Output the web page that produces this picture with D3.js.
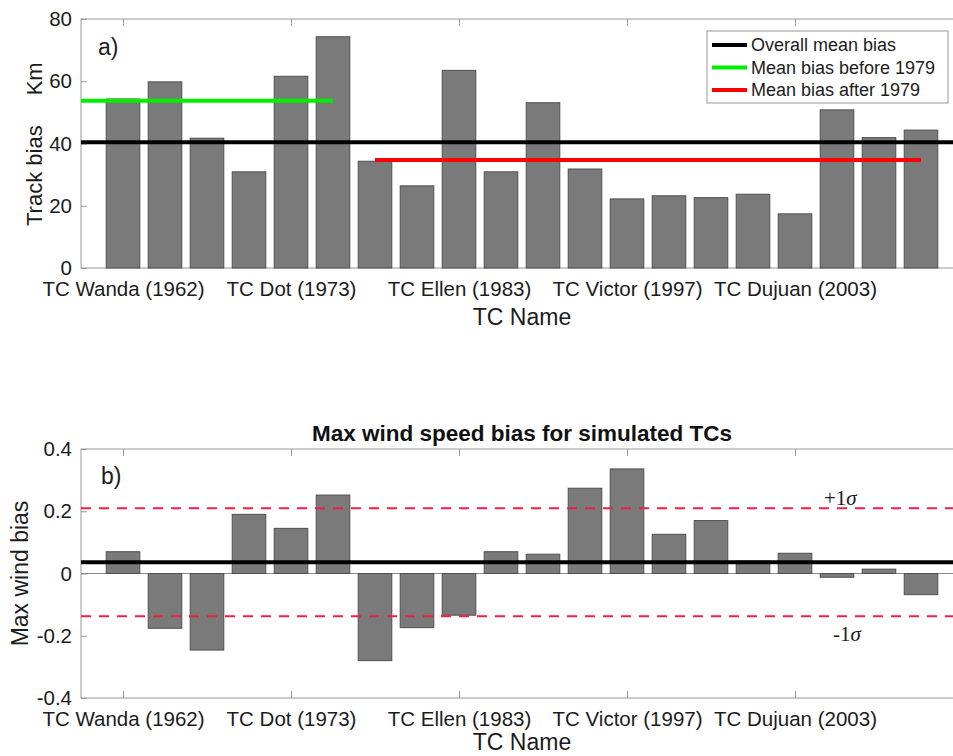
<!DOCTYPE html>
<html>
<head>
<meta charset="utf-8">
<script src="https://cdn.jsdelivr.net/npm/d3@7"></script>
<style>
  body { margin: 0; background: #fff; }
  svg { display: block; font-family: "Liberation Sans", Arial, Helvetica, sans-serif; }
</style>
</head>
<body>
<svg id="fig" width="953" height="756"></svg>
<script>
// Simulated tropical cyclone cases, in chronological order
const caseIds = [1, 2, 3, 4, 5, 6, 7, 8, 9, 10, 11, 12, 13, 14, 15, 16, 17, 18, 19, 20];
// Cases that carry a name label on the x axis
const labelledCases = [1, 5, 9, 13, 17];
const stormLabels = ["TC Wanda (1962)", "TC Dot (1973)", "TC Ellen (1983)", "TC Victor (1997)", "TC Dujuan (2003)"];

// Track bias (km) per case
const trackBias = [54.3, 59.8, 41.7, 30.9, 61.6, 74.3, 34.3, 26.4, 63.5, 30.9,
                   53.1, 31.8, 22.2, 23.2, 22.6, 23.7, 17.4, 50.8, 41.9, 44.3];
// Cases 1-6 were before 1979, cases 7-20 after
const preSatelliteCount = 6;

// Max wind speed bias per case
const windBias = [0.070, -0.176, -0.246, 0.190, 0.145, 0.252, -0.280, -0.174, -0.134, 0.070,
                  0.062, 0.274, 0.336, 0.126, 0.170, 0.040, 0.065, -0.012, 0.014, -0.068];

const trackTicks = [0, 20, 40, 60, 80];
const trackTickLabels = ["0", "20", "40", "60", "80"];
const windTicks = [-0.4, -0.2, 0, 0.2, 0.4];
const windTickLabels = ["-0.4", "-0.2", "0", "0.2", "0.4"];

const svg = d3.select("#fig");
const axisColor = "#999";
const textColor = "#1c1c1c";
const barFill = "#7a7a7a";
const barEdge = "#505050";

const left = 81, xRight = 963;
const x = d3.scaleLinear().domain([0, 21]).range([left, xRight]);
const barW = (x(1) - x(0)) * 0.8;

function panel(top, bottom, yDomain, yTicks, yLabels) {
  const y = d3.scaleLinear().domain(yDomain).range([bottom, top]);
  const g = svg.append("g");

  // axis box
  g.append("rect").attr("x", left).attr("y", top)
    .attr("width", xRight - left).attr("height", bottom - top)
    .attr("fill", "none").attr("stroke", axisColor).attr("stroke-width", 1);

  const styleAxis = sel => {
    sel.select(".domain").remove();
    sel.selectAll(".tick line").attr("stroke", axisColor);
    sel.selectAll(".tick text").attr("fill", textColor).style("font-size", "20.5px");
  };

  g.append("g").attr("transform", `translate(${left},0)`)
    .call(d3.axisLeft(y).tickValues(yTicks).tickFormat((d, i) => yLabels[i])
      .tickSize(-6).tickPadding(9))
    .call(styleAxis);
  g.append("g").attr("transform", `translate(${xRight},0)`)
    .call(d3.axisRight(y).tickValues(yTicks).tickFormat("").tickSize(-6))
    .call(styleAxis);
  g.append("g").attr("transform", `translate(0,${bottom})`)
    .call(d3.axisBottom(x).tickValues(labelledCases)
      .tickFormat((d, i) => stormLabels[i]).tickSize(-7).tickPadding(13))
    .call(styleAxis);
  g.append("g").attr("transform", `translate(0,${top})`)
    .call(d3.axisTop(x).tickValues(labelledCases).tickFormat("").tickSize(-7))
    .call(styleAxis);

  return { g, y };
}

function bars(p, values) {
  const y = p.y;
  p.g.append("g").selectAll("rect").data(values).join("rect")
    .attr("x", (d, i) => x(caseIds[i]) - barW / 2)
    .attr("y", d => y(Math.max(0, d)))
    .attr("width", barW)
    .attr("height", d => Math.abs(y(d) - y(0)))
    .attr("fill", barFill)
    .attr("stroke", barEdge)
    .attr("stroke-width", 1);
}

function hline(p, x0, x1, v, color, width, dash) {
  p.g.append("line")
    .attr("x1", x(x0)).attr("x2", x(x1))
    .attr("y1", p.y(v)).attr("y2", p.y(v))
    .attr("stroke", color).attr("stroke-width", width)
    .attr("stroke-dasharray", dash || null);
}

// ---------- a) track bias ----------
const pa = panel(19, 268, [0, 80], trackTicks, trackTickLabels);
bars(pa, trackBias);
const overallMean = d3.mean(trackBias);
const meanBefore = d3.mean(trackBias.slice(0, preSatelliteCount));
const meanAfter = d3.mean(trackBias.slice(preSatelliteCount));
hline(pa, 0, 21, overallMean, "#000", 4);
hline(pa, 0, preSatelliteCount, meanBefore, "#00ee00", 4);
hline(pa, preSatelliteCount + 1, caseIds.length, meanAfter, "#ff0000", 4);

pa.g.append("text").attr("x", 98).attr("y", 55)
  .attr("fill", textColor).style("font-size", "23px").text("a)");

pa.g.append("text")
  .attr("transform", "translate(42,226) rotate(-90)")
  .attr("fill", textColor).style("font-size", "22px")
  .text("Track bias")
  .append("tspan").attr("dx", 30).text("Km");

pa.g.append("text").attr("x", 522).attr("y", 325).attr("text-anchor", "middle")
  .attr("fill", textColor).style("font-size", "23px").text("TC Name");

// legend
const legendItems = [
  { label: "Overall mean bias", color: "#000" },
  { label: "Mean bias before 1979", color: "#00ee00" },
  { label: "Mean bias after 1979", color: "#ff0000" }
];
const lg = pa.g.append("g");
lg.append("rect").attr("x", 707).attr("y", 31).attr("width", 241).attr("height", 72)
  .attr("fill", "#fff").attr("stroke", axisColor).attr("stroke-width", 1);
legendItems.forEach((it, i) => {
  const cy = 45 + i * 22.5;
  lg.append("line").attr("x1", 712).attr("x2", 747).attr("y1", cy).attr("y2", cy)
    .attr("stroke", it.color).attr("stroke-width", 4);
  lg.append("text").attr("x", 751).attr("y", cy).attr("dy", "0.35em")
    .attr("fill", textColor).style("font-size", "18px").text(it.label);
});

// ---------- b) max wind speed bias ----------
const pb = panel(449, 698, [-0.4, 0.4], windTicks, windTickLabels);
// bar baseline
pb.g.append("line").attr("x1", left).attr("x2", xRight)
  .attr("y1", pb.y(0)).attr("y2", pb.y(0)).attr("stroke", "#8a8a8a").attr("stroke-width", 1);
bars(pb, windBias);
const windMean = d3.mean(windBias);
const windSd = d3.deviation(windBias);
hline(pb, 0, 21, windMean, "#000", 4);
hline(pb, 0, 21, windMean + windSd, "#ee1f4b", 2, "10 8");
hline(pb, 0, 21, windMean - windSd, "#ee1f4b", 2, "10 8");

const sigmaLabel = (xPos, yPos, sign) => {
  const t = pb.g.append("text").attr("x", xPos).attr("y", yPos)
    .attr("fill", textColor)
    .style("font-family", "'Liberation Serif', 'Times New Roman', serif")
    .style("font-size", "21px");
  t.append("tspan").text(sign + "1");
  t.append("tspan").style("font-style", "italic").text("σ");
};
sigmaLabel(824, 505, "+");
sigmaLabel(833, 641, "-");

pb.g.append("text").attr("x", 101).attr("y", 484)
  .attr("fill", textColor).style("font-size", "23px").text("b)");

pb.g.append("text")
  .attr("transform", `translate(28,${(449 + 698) / 2}) rotate(-90)`)
  .attr("text-anchor", "middle")
  .attr("fill", textColor).style("font-size", "23px").text("Max wind bias");

pb.g.append("text").attr("x", 522).attr("y", 441).attr("text-anchor", "middle")
  .attr("fill", "#111").style("font-size", "22.5px").style("font-weight", "bold")
  .text("Max wind speed bias for simulated TCs");

pb.g.append("text").attr("x", 522).attr("y", 750).attr("text-anchor", "middle")
  .attr("fill", textColor).style("font-size", "23px").text("TC Name");
</script>
</body>
</html>
